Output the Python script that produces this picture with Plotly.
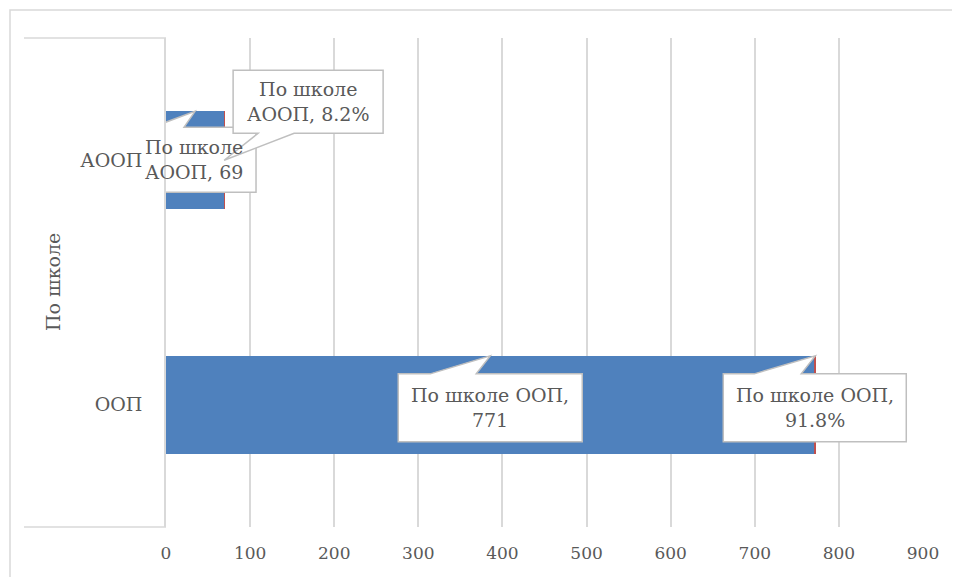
import plotly.graph_objects as go

# ---- data ----
categories = ["ООП", "АООП"]
counts = [771, 69]
shares = [0.918, 0.082]
share_labels = ["91.8%", "8.2%"]
group_name = "По школе"
x_ticks = [0, 100, 200, 300, 400, 500, 600, 700, 800, 900]

# ---- layout geometry (page body has an 8px margin) ----
OFF = 8
W, H = 960 - OFF, 577 - OFF
ML, MR, MT, MB = 166 - OFF, 37, 38 - OFF, 50
PW, PH = W - ML - MR, H - MT - MB
XMAX = 900
YR = (-0.5, 1.5)
BARW = 0.4
pxx = PW / XMAX
pxy = PH / (YR[1] - YR[0])

FONT = "DejaVu Serif"
TXT = "#595959"
GRID = "#D9D9D9"
BORDER = "#BFBFBF"

fig = go.Figure()
fig.add_trace(go.Bar(y=categories, x=counts, orientation="h", marker=dict(color="#4F81BD", line=dict(width=0)),
                     name="Кол-во", width=BARW))
fig.add_trace(go.Bar(y=categories, x=shares, orientation="h", marker=dict(color="#C0504D", line=dict(width=0)),
                     name="Доля", width=BARW))

shapes = []
annotations = []


def callout(tx, ty, left, right, top, bottom, b0, b1, text, side="top"):
    """tx,ty: data coords of tip. others: pixel offsets relative to tip (y down)."""
    def P(dx, dy):
        return tx + dx / pxx, ty - dy / pxy
    if side == "top":
        pts = [P(left, top), P(b0, top), P(0, 0), P(b1, top), P(right, top),
               P(right, bottom), P(left, bottom)]
    else:
        pts = [P(left, top), P(right, top), P(right, bottom), P(b1, bottom), P(0, 0),
               P(b0, bottom), P(left, bottom)]
    path = "M " + " L ".join(f"{x:.5f},{y:.5f}" for x, y in pts) + " Z"
    shapes.append(dict(type="path", path=path, xref="x", yref="y", fillcolor="white",
                       line=dict(color=BORDER, width=1.5), layer="above"))
    cx, cy = P((left + right) / 2, (top + bottom) / 2)
    annotations.append(dict(x=cx, y=cy, xref="x", yref="y", text=text, showarrow=False,
                            font=dict(family=FONT, size=19, color=TXT), align="center"))


# АООП, count label (anchored at bar middle, top edge)
callout(counts[1] / 2, 1 + BARW / 2, -63, 61, 16, 81, -43, -11,
        f"{group_name}<br>{categories[1]}, {counts[1]}")
# АООП, share label (anchored at bar end)
callout(counts[1] + shares[1], 1, 9, 159, -90, -27, 34, 70,
        f"{group_name}<br>{categories[1]}, {share_labels[1]}", side="bottom")
# ООП, count label
callout(counts[0] / 2, 0 + BARW / 2, -92, 92, 18, 86, -60, -14,
        f"{group_name} {categories[0]},<br>{counts[0]}")
# ООП, share label
callout(counts[0] + shares[0], 0 + BARW / 2, -92, 91, 18, 86, -61, -14,
        f"{group_name} {categories[0]},<br>{share_labels[0]}")


def px2paper_x(px):
    return (px - OFF - ML) / PW


def py2paper_y(py):
    return (H - MB - (py - OFF)) / PH


# outer chart border
shapes.append(dict(type="rect", xref="paper", yref="paper", x0=px2paper_x(10), x1=px2paper_x(1000),
                   y0=py2paper_y(620), y1=py2paper_y(10), line=dict(color=GRID, width=1.5),
                   fillcolor="rgba(0,0,0,0)", layer="below"))
# multi-level category bracket
shapes.append(dict(type="line", xref="paper", yref="paper", x0=px2paper_x(24), x1=0, y0=1, y1=1,
                   line=dict(color=GRID, width=1.5)))
shapes.append(dict(type="line", xref="paper", yref="paper", x0=px2paper_x(24), x1=0, y0=0, y1=0,
                   line=dict(color=GRID, width=1.5)))

annotations.append(dict(x=px2paper_x(40), y=py2paper_y(282), xref="paper", yref="paper",
                        text=group_name, textangle=-90, showarrow=False,
                        font=dict(family=FONT, size=19, color=TXT)))

fig.update_layout(
    width=W, height=H, margin=dict(l=ML, r=MR, t=MT, b=MB),
    paper_bgcolor="white", plot_bgcolor="white",
    barmode="stack", showlegend=False,
    shapes=shapes, annotations=annotations,
    font=dict(family=FONT, color=TXT),
    xaxis=dict(range=[0, XMAX], tickvals=x_ticks, showgrid=True, gridcolor=GRID, gridwidth=1.5,
               zeroline=False, showline=False, ticks="", tickfont=dict(family=FONT, size=17, color=TXT),
               ticklabelstandoff=14),
    yaxis=dict(range=list(YR), type="category", categoryorder="array", categoryarray=categories,
               showgrid=False, zeroline=False, showline=True, linecolor=GRID, linewidth=1.5,
               ticks="", tickfont=dict(family=FONT, size=19, color=TXT), ticklabelstandoff=18),
)

fig.write_html("out.html")
